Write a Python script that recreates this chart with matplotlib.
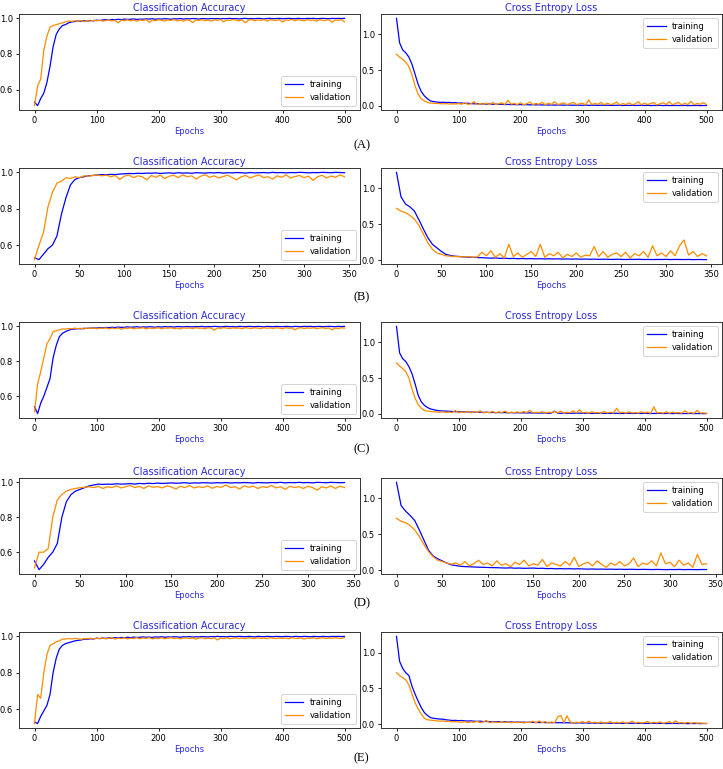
import numpy as np
import matplotlib
matplotlib.use("Agg")
import matplotlib.pyplot as plt

# ---------------- data (every 5th epoch) ----------------
epochs_500 = np.arange(0, 501, 5)
epochs_B = np.arange(0, 350, 5)
epochs_D = np.arange(0, 345, 5)

A_acc_train = [0.53,0.51,0.55,0.58,0.64,0.73,0.84,0.91,0.94,0.96,
 0.965,0.975,0.98,0.982,0.985,0.984,0.987,0.985,0.988,0.986,
 0.99,0.988,0.991,0.993,0.99,0.994,0.992,0.995,0.993,0.996,
 0.994,0.995,0.997,0.994,0.996,0.995,0.997,0.996,0.998,0.995,
 0.997,0.996,0.998,0.997,0.995,0.998,0.997,0.999,0.996,0.998,
 0.997,0.999,0.998,0.996,0.999,0.998,0.997,0.999,0.998,0.999,
 0.997,0.999,0.998,1.0,0.998,0.999,0.997,0.999,1.0,0.998,
 0.999,0.998,1.0,0.999,0.997,0.999,1.0,0.998,0.999,1.0,
 0.998,0.999,1.0,0.999,0.998,1.0,0.999,0.998,1.0,0.999,
 1.0,0.998,0.999,1.0,0.999,0.998,1.0,0.999,1.0,0.999,1.0]
A_acc_val = [0.51,0.62,0.66,0.82,0.90,0.95,0.96,0.965,0.97,0.975,
 0.98,0.985,0.983,0.986,0.984,0.988,0.982,0.987,0.985,0.989,
 0.986,0.99,0.984,0.988,0.991,0.985,0.989,0.975,0.99,0.987,
 0.992,0.986,0.99,0.984,0.991,0.988,0.993,0.978,0.99,0.987,
 0.992,0.989,0.985,0.991,0.988,0.994,0.986,0.99,0.984,0.992,
 0.989,0.976,0.991,0.988,0.993,0.987,0.99,0.985,0.992,0.989,
 0.994,0.98,0.991,0.988,0.993,0.99,0.986,0.992,0.975,0.99,
 0.993,0.987,0.991,0.989,0.994,0.985,0.992,0.99,0.988,0.993,
 0.979,0.991,0.989,0.994,0.987,0.992,0.99,0.986,0.993,0.989,
 0.991,0.984,0.993,0.988,0.99,0.992,0.978,0.991,0.989,0.993,0.98]
A_loss_train = [1.22,0.88,0.78,0.74,0.68,0.58,0.44,0.3,0.2,0.14,
 0.1,0.07,0.06,0.055,0.05,0.052,0.048,0.05,0.045,0.047,
 0.04,0.042,0.036,0.038,0.034,0.03,0.033,0.028,0.03,0.026,
 0.028,0.024,0.026,0.022,0.025,0.02,0.022,0.019,0.021,0.018,
 0.02,0.017,0.019,0.016,0.018,0.015,0.017,0.014,0.016,0.013,
 0.015,0.012,0.014,0.013,0.011,0.013,0.012,0.01,0.012,0.011,
 0.01,0.012,0.009,0.011,0.01,0.009,0.011,0.008,0.01,0.009,
 0.008,0.01,0.009,0.007,0.009,0.008,0.01,0.007,0.009,0.008,
 0.007,0.009,0.006,0.008,0.007,0.009,0.006,0.008,0.007,0.006,
 0.008,0.007,0.006,0.008,0.005,0.007,0.006,0.008,0.005,0.007,0.006]
A_loss_val = [0.72,0.68,0.65,0.61,0.55,0.43,0.28,0.16,0.1,0.07,
 0.05,0.04,0.038,0.035,0.033,0.03,0.032,0.028,0.03,0.027,
 0.035,0.025,0.045,0.022,0.03,0.06,0.02,0.035,0.025,0.04,
 0.018,0.05,0.022,0.03,0.045,0.02,0.08,0.025,0.035,0.02,
 0.045,0.018,0.03,0.055,0.02,0.035,0.025,0.05,0.018,0.04,
 0.022,0.06,0.02,0.03,0.045,0.015,0.035,0.05,0.02,0.03,
 0.04,0.015,0.085,0.02,0.035,0.025,0.05,0.015,0.04,0.02,
 0.03,0.055,0.015,0.035,0.02,0.045,0.018,0.03,0.06,0.015,
 0.04,0.02,0.035,0.05,0.015,0.03,0.045,0.02,0.06,0.018,
 0.035,0.05,0.015,0.04,0.02,0.065,0.018,0.035,0.025,0.045,0.02]

B_acc_train = [0.53,0.52,0.55,0.58,0.6,0.65,0.77,0.86,0.93,0.96,
 0.97,0.975,0.98,0.982,0.985,0.987,0.986,0.988,0.987,0.99,
 0.991,0.993,0.992,0.994,0.993,0.995,0.994,0.996,0.993,0.995,
 0.996,0.994,0.997,0.995,0.996,0.994,0.997,0.996,0.995,0.997,
 0.996,0.998,0.995,0.997,0.996,0.998,0.997,0.995,0.998,0.996,
 0.997,0.998,0.996,0.999,0.997,0.998,0.996,0.998,0.997,0.999,
 0.998,0.996,0.998,0.997,0.999,0.998,0.997,0.999,0.998,0.997]
B_acc_val = [0.52,0.6,0.67,0.81,0.89,0.94,0.95,0.97,0.965,0.975,
 0.97,0.98,0.978,0.982,0.985,0.98,0.984,0.975,0.982,0.96,
 0.978,0.985,0.97,0.98,0.975,0.958,0.982,0.972,0.985,0.965,
 0.978,0.983,0.97,0.985,0.975,0.98,0.962,0.978,0.986,0.972,
 0.98,0.968,0.976,0.984,0.97,0.958,0.975,0.982,0.968,0.978,
 0.985,0.97,0.975,0.962,0.98,0.972,0.985,0.968,0.976,0.982,
 0.97,0.978,0.955,0.975,0.983,0.968,0.979,0.972,0.985,0.975]
B_loss_train = [1.22,0.88,0.78,0.74,0.68,0.56,0.43,0.31,0.22,0.17,
 0.12,0.08,0.065,0.055,0.05,0.045,0.042,0.04,0.036,0.034,
 0.03,0.028,0.03,0.025,0.027,0.022,0.024,0.02,0.022,0.019,
 0.021,0.018,0.02,0.017,0.019,0.016,0.018,0.015,0.017,0.014,
 0.016,0.013,0.015,0.012,0.014,0.011,0.013,0.012,0.01,0.012,
 0.011,0.009,0.011,0.01,0.012,0.009,0.01,0.008,0.01,0.009,
 0.011,0.008,0.01,0.009,0.008,0.01,0.007,0.009,0.008,0.007]
B_loss_val = [0.72,0.68,0.66,0.62,0.57,0.48,0.36,0.24,0.15,0.1,
 0.08,0.06,0.055,0.05,0.048,0.045,0.05,0.04,0.045,0.11,
 0.06,0.13,0.04,0.09,0.03,0.22,0.05,0.1,0.04,0.08,
 0.12,0.05,0.22,0.04,0.09,0.06,0.11,0.03,0.08,0.05,
 0.1,0.04,0.07,0.06,0.19,0.05,0.12,0.04,0.08,0.1,
 0.05,0.11,0.03,0.09,0.06,0.12,0.04,0.2,0.06,0.1,
 0.05,0.13,0.06,0.2,0.28,0.07,0.12,0.05,0.09,0.06]

C_acc_train = [0.54,0.5,0.56,0.6,0.65,0.7,0.82,0.89,0.94,0.96,
 0.97,0.978,0.983,0.985,0.987,0.986,0.989,0.988,0.99,0.991,
 0.99,0.993,0.991,0.994,0.992,0.995,0.993,0.996,0.994,0.995,
 0.997,0.995,0.996,0.998,0.995,0.997,0.996,0.998,0.997,0.995,
 0.998,0.996,0.999,0.997,0.998,0.996,0.999,0.998,0.997,0.999,
 0.998,0.997,0.999,0.998,1.0,0.997,0.999,0.998,1.0,0.999,
 0.997,0.999,1.0,0.998,0.999,0.997,1.0,0.999,0.998,1.0,
 0.999,0.998,1.0,0.999,0.997,1.0,0.999,0.998,1.0,0.999,
 0.998,1.0,0.999,0.997,1.0,0.999,0.998,1.0,0.999,1.0,
 0.998,0.999,1.0,0.998,0.999,1.0,0.999,0.998,1.0,0.999,1.0]
C_acc_val = [0.51,0.67,0.74,0.82,0.9,0.93,0.97,0.975,0.98,0.985,
 0.984,0.988,0.986,0.99,0.987,0.989,0.985,0.99,0.988,0.991,
 0.986,0.99,0.988,0.992,0.985,0.99,0.987,0.991,0.983,0.99,
 0.988,0.992,0.986,0.99,0.989,0.993,0.985,0.991,0.988,0.99,
 0.992,0.986,0.991,0.989,0.993,0.987,0.99,0.985,0.992,0.989,
 0.991,0.987,0.993,0.989,0.99,0.986,0.992,0.99,0.978,0.991,
 0.988,0.993,0.99,0.987,0.992,0.989,0.991,0.986,0.993,0.99,
 0.988,0.992,0.99,0.987,0.993,0.989,0.991,0.988,0.992,0.99,
 0.986,0.993,0.989,0.991,0.98,0.99,0.992,0.988,0.991,0.989,
 0.993,0.987,0.99,0.992,0.988,0.991,0.98,0.99,0.988,0.992,0.99]
C_loss_train = [1.22,0.85,0.77,0.73,0.66,0.56,0.42,0.26,0.17,0.12,
 0.09,0.07,0.06,0.05,0.045,0.042,0.04,0.038,0.035,0.033,
 0.03,0.032,0.028,0.03,0.026,0.028,0.024,0.026,0.022,0.024,
 0.02,0.022,0.019,0.021,0.018,0.02,0.017,0.019,0.016,0.018,
 0.015,0.017,0.014,0.016,0.013,0.015,0.012,0.014,0.013,0.011,
 0.013,0.04,0.012,0.01,0.012,0.011,0.009,0.011,0.01,0.012,
 0.009,0.011,0.01,0.008,0.01,0.009,0.011,0.008,0.01,0.009,
 0.008,0.01,0.007,0.009,0.008,0.01,0.007,0.009,0.008,0.007,
 0.009,0.008,0.006,0.008,0.007,0.009,0.006,0.008,0.007,0.006,
 0.008,0.007,0.005,0.007,0.006,0.008,0.005,0.007,0.006,0.005,0.006]
C_loss_val = [0.71,0.67,0.63,0.59,0.5,0.35,0.22,0.13,0.08,0.05,
 0.04,0.035,0.03,0.028,0.025,0.03,0.022,0.026,0.02,0.05,
 0.018,0.03,0.02,0.04,0.015,0.035,0.02,0.045,0.015,0.025,
 0.02,0.035,0.015,0.03,0.02,0.04,0.015,0.025,0.018,0.03,
 0.015,0.035,0.02,0.05,0.015,0.025,0.018,0.03,0.012,0.025,
 0.02,0.035,0.015,0.04,0.012,0.025,0.018,0.045,0.012,0.06,
 0.015,0.025,0.012,0.03,0.018,0.02,0.012,0.035,0.015,0.025,
 0.012,0.08,0.015,0.025,0.012,0.03,0.015,0.02,0.012,0.03,
 0.015,0.025,0.01,0.1,0.015,0.02,0.012,0.03,0.01,0.025,
 0.015,0.02,0.01,0.045,0.012,0.02,0.01,0.05,0.012,0.015,0.01]

D_acc_train = [0.55,0.5,0.53,0.57,0.6,0.65,0.8,0.89,0.93,0.95,
 0.96,0.97,0.98,0.985,0.99,0.988,0.99,0.989,0.992,0.99,
 0.991,0.993,0.99,0.994,0.992,0.995,0.993,0.996,0.994,0.995,
 0.997,0.995,0.996,0.998,0.995,0.997,0.996,0.998,0.997,0.996,
 0.998,0.997,0.999,0.996,0.998,0.997,0.999,0.998,0.996,0.999,
 0.998,0.997,0.999,0.998,1.0,0.997,0.999,0.998,1.0,0.998,
 0.999,0.997,1.0,0.999,0.998,1.0,0.999,0.998,0.999]
D_acc_val = [0.51,0.6,0.6,0.62,0.8,0.9,0.93,0.95,0.96,0.965,
 0.97,0.972,0.975,0.97,0.978,0.965,0.975,0.97,0.98,0.968,
 0.975,0.982,0.97,0.977,0.965,0.98,0.972,0.976,0.968,0.98,
 0.974,0.962,0.978,0.97,0.982,0.968,0.975,0.97,0.98,0.966,
 0.976,0.972,0.985,0.97,0.975,0.962,0.98,0.972,0.978,0.965,
 0.976,0.97,0.983,0.968,0.975,0.96,0.978,0.97,0.975,0.965,
 0.978,0.97,0.955,0.975,0.968,0.98,0.965,0.978,0.97]
D_loss_train = [1.22,0.9,0.82,0.76,0.69,0.56,0.42,0.28,0.2,0.16,
 0.13,0.1,0.075,0.065,0.055,0.05,0.048,0.045,0.042,0.04,
 0.038,0.036,0.035,0.032,0.03,0.033,0.028,0.03,0.026,0.028,
 0.03,0.025,0.027,0.022,0.024,0.02,0.022,0.019,0.021,0.018,
 0.02,0.017,0.015,0.017,0.014,0.016,0.013,0.015,0.012,0.014,
 0.011,0.013,0.012,0.01,0.012,0.011,0.009,0.011,0.01,0.008,
 0.01,0.009,0.011,0.008,0.01,0.009,0.008,0.01,0.009]
D_loss_val = [0.72,0.68,0.66,0.62,0.56,0.47,0.36,0.26,0.19,0.14,
 0.12,0.1,0.085,0.1,0.07,0.12,0.06,0.09,0.14,0.08,
 0.1,0.06,0.13,0.07,0.09,0.05,0.11,0.08,0.14,0.06,
 0.09,0.07,0.15,0.05,0.1,0.08,0.06,0.12,0.07,0.18,
 0.05,0.09,0.11,0.06,0.13,0.08,0.04,0.1,0.07,0.12,
 0.06,0.09,0.17,0.05,0.1,0.08,0.13,0.06,0.24,0.09,
 0.11,0.05,0.14,0.07,0.1,0.04,0.22,0.08,0.09]

E_acc_train = [0.53,0.52,0.56,0.59,0.62,0.68,0.8,0.88,0.93,0.95,
 0.96,0.965,0.97,0.975,0.978,0.98,0.985,0.983,0.987,0.985,
 0.99,0.988,0.991,0.989,0.992,0.99,0.993,0.991,0.994,0.992,
 0.995,0.993,0.996,0.994,0.995,0.997,0.995,0.996,0.994,0.997,
 0.996,0.998,0.995,0.997,0.996,0.998,0.997,0.995,0.998,0.997,
 0.999,0.996,0.998,0.997,0.999,0.998,0.997,0.999,0.998,1.0,
 0.998,0.999,0.997,1.0,0.999,0.998,1.0,0.999,0.998,1.0,
 0.999,0.997,1.0,0.999,0.998,1.0,0.999,0.998,1.0,0.999,
 0.998,1.0,0.999,0.997,1.0,0.999,0.998,1.0,0.999,0.998,
 1.0,0.999,0.998,1.0,0.999,0.998,1.0,0.999,1.0,0.999,1.0]
E_acc_val = [0.52,0.68,0.66,0.8,0.9,0.95,0.96,0.97,0.975,0.985,
 0.985,0.988,0.986,0.989,0.987,0.983,0.988,0.986,0.99,0.985,
 0.99,0.987,0.991,0.986,0.989,0.993,0.985,0.99,0.988,0.992,
 0.986,0.99,0.988,0.993,0.987,0.991,0.989,0.993,0.986,0.99,
 0.988,0.992,0.987,0.99,0.993,0.988,0.991,0.986,0.99,0.992,
 0.988,0.991,0.985,0.99,0.993,0.987,0.99,0.988,0.992,0.98,
 0.991,0.988,0.993,0.987,0.99,0.992,0.988,0.991,0.987,0.993,
 0.99,0.988,0.992,0.989,0.991,0.987,0.993,0.99,0.988,0.992,
 0.989,0.991,0.987,0.993,0.99,0.988,0.992,0.985,0.991,0.989,
 0.993,0.987,0.99,0.992,0.988,0.991,0.989,0.993,0.99,0.988,0.994]
E_loss_train = [1.23,0.88,0.78,0.72,0.68,0.53,0.42,0.32,0.23,0.16,
 0.12,0.09,0.08,0.075,0.07,0.068,0.06,0.055,0.05,0.052,
 0.048,0.05,0.045,0.042,0.045,0.04,0.038,0.04,0.035,0.037,
 0.033,0.035,0.031,0.033,0.03,0.032,0.028,0.03,0.026,0.028,
 0.025,0.027,0.024,0.026,0.022,0.024,0.021,0.023,0.02,0.022,
 0.019,0.021,0.018,0.02,0.017,0.019,0.016,0.018,0.015,0.017,
 0.014,0.016,0.013,0.015,0.012,0.014,0.013,0.011,0.013,0.012,
 0.01,0.012,0.011,0.009,0.011,0.01,0.012,0.009,0.011,0.01,
 0.008,0.01,0.009,0.011,0.008,0.01,0.009,0.007,0.009,0.008,
 0.01,0.007,0.009,0.008,0.006,0.008,0.007,0.009,0.006,0.008,0.007]
E_loss_val = [0.72,0.68,0.65,0.62,0.55,0.42,0.3,0.21,0.14,0.08,
 0.06,0.055,0.05,0.045,0.04,0.045,0.035,0.04,0.03,0.035,
 0.03,0.025,0.035,0.02,0.03,0.025,0.04,0.02,0.03,0.05,
 0.02,0.03,0.025,0.02,0.035,0.02,0.03,0.018,0.025,0.02,
 0.03,0.015,0.025,0.02,0.04,0.015,0.045,0.02,0.035,0.015,
 0.03,0.018,0.1,0.12,0.02,0.115,0.03,0.015,0.025,0.02,
 0.035,0.015,0.04,0.018,0.025,0.015,0.03,0.012,0.02,0.035,
 0.012,0.025,0.015,0.03,0.012,0.02,0.04,0.012,0.025,0.015,
 0.02,0.035,0.012,0.025,0.015,0.03,0.012,0.02,0.035,0.012,
 0.045,0.015,0.02,0.012,0.025,0.01,0.02,0.012,0.015,0.01,0.01]

panel_labels = ["(A)", "(B)", "(C)", "(D)", "(E)"]
series_names = ["training", "validation"]
titles = ["Classification Accuracy", "Cross Entropy Loss"]

panels = [
    (epochs_500, A_acc_train, A_acc_val, A_loss_train, A_loss_val),
    (epochs_B, B_acc_train, B_acc_val, B_loss_train, B_loss_val),
    (epochs_500, C_acc_train, C_acc_val, C_loss_train, C_loss_val),
    (epochs_D, D_acc_train, D_acc_val, D_loss_train, D_loss_val),
    (epochs_500, E_acc_train, E_acc_val, E_loss_train, E_loss_val),
]

# ---------------- figure ----------------
W, H = 723, 769
fig = plt.figure(figsize=(W / 100, H / 100), dpi=100)

TRAIN_C = "#0000ff"
VAL_C = "#ff8c00"
TITLE_C = "#2a2ad6"

ax_tops = [14, 168, 322, 478, 632]
ax_h = 96
lefts = [19, 381]
ax_w = 341
label_y = [145, 297, 449, 603, 758]


def style(ax):
    ax.tick_params(labelsize=6, length=2.5, width=0.6, pad=2)
    for s in ax.spines.values():
        s.set_linewidth(0.7)
        s.set_color("#333333")
    ax.set_xlabel("Epochs", color=TITLE_C, fontsize=6, labelpad=1)


for r, (ep, acc_t, acc_v, loss_t, loss_v) in enumerate(panels):
    bottom = 1 - (ax_tops[r] + ax_h) / H
    for c in range(2):
        ax = fig.add_axes([lefts[c] / W, bottom, ax_w / W, ax_h / H])
        if c == 0:
            ax.plot(ep, acc_t, color=TRAIN_C, lw=0.9, label=series_names[0])
            ax.plot(ep, acc_v, color=VAL_C, lw=0.9, label=series_names[1])
            ax.set_yticks([0.6, 0.8, 1.0])
            loc = "lower right"
        else:
            ax.plot(ep, loss_t, color=TRAIN_C, lw=0.9, label=series_names[0])
            ax.plot(ep, loss_v, color=VAL_C, lw=0.9, label=series_names[1])
            ax.set_yticks([0.0, 0.5, 1.0])
            loc = "upper right"
        ax.set_title(titles[c], color=TITLE_C, fontsize=7, pad=2.5)
        style(ax)
        leg = ax.legend(loc=loc, fontsize=6, handlelength=2.2, borderpad=0.5,
                        labelspacing=0.4, framealpha=1.0, fancybox=True)
        leg.get_frame().set_linewidth(0.6)
    fig.text(0.5, 1 - label_y[r] / H, panel_labels[r], ha="center", va="center",
             fontsize=9, family="Liberation Serif")

fig.savefig("out.png", dpi=100)
